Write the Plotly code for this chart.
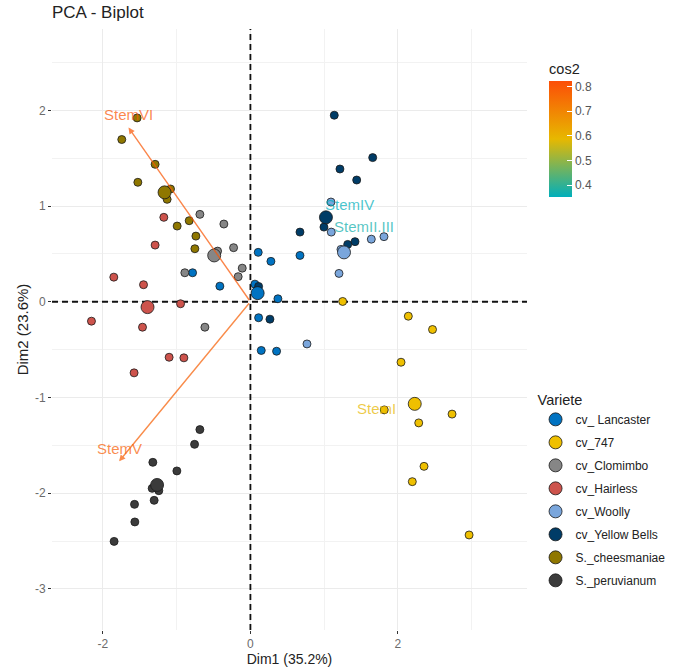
import plotly.graph_objects as go
from plotly.colors import sample_colorscale

# ---------------- data ----------------
groups = ["cv_ Lancaster", "cv_747", "cv_Clomimbo", "cv_Hairless", "cv_Woolly",
          "cv_Yellow Bells", "S._cheesmaniae", "S._peruvianum"]
group_colors = ["#0073C2", "#EFC000", "#868686", "#CD534C", "#7AA6DC",
                "#003C67", "#8F7700", "#3B3B3B"]

lancaster_x = [0.106, 0.278, -0.784, -0.414, 0.061, 0.373, 0.111, 0.147, 0.355, 0.672]
lancaster_y = [0.516, 0.422, 0.303, 0.163, 0.184, 0.031, -0.167, -0.509, -0.517, 0.484]
c747_x = [1.251, 2.141, 2.469, 2.042, 1.815, 2.734, 2.282, 2.354, 2.195, 2.965]
c747_y = [0.003, -0.151, -0.290, -0.632, -1.130, -1.174, -1.266, -1.720, -1.880, -2.437]
clomimbo_x = [-0.685, -0.360, -0.445, -0.228, -0.111, -0.166, -0.889, -0.617]
clomimbo_y = [0.913, 0.812, 0.529, 0.565, 0.351, 0.262, 0.303, -0.266]
hairless_x = [-1.174, -1.292, -1.852, -1.449, -0.947, -2.155, -1.463, -1.102, -0.902, -1.577]
hairless_y = [0.882, 0.592, 0.257, 0.178, -0.021, -0.203, -0.266, -0.580, -0.586, -0.743]
woolly_x = [1.092, 1.096, 1.639, 1.811, 1.228, 1.201, 0.767]
woolly_y = [1.042, 0.728, 0.654, 0.680, 0.547, 0.296, -0.441]
yellowbells_x = [1.137, 1.658, 1.214, 1.441, 0.997, 0.672, 1.418, 1.319, 0.111, 0.265]
yellowbells_y = [1.949, 1.506, 1.387, 1.272, 0.780, 0.728, 0.628, 0.599, 0.160, -0.182]
cheesmaniae_x = [-1.536, -1.744, -1.292, -1.526, -1.129, -1.083, -0.993, -0.830, -0.739, -0.753]
cheesmaniae_y = [1.921, 1.695, 1.436, 1.248, 1.070, 1.178, 0.791, 0.847, 0.686, 0.554]
peruvianum_x = [-0.685, -0.757, -1.323, -0.997, -1.332, -1.242, -1.305, -1.571, -1.567, -1.848]
peruvianum_y = [-1.336, -1.490, -1.678, -1.768, -1.950, -1.974, -2.075, -2.117, -2.301, -2.504]

# group centroids (large points)
mean_x = [0.098, 2.228, -0.491, -1.395, 1.269, 1.024, -1.164, -1.265]
mean_y = [0.090, -1.067, 0.484, -0.056, 0.516, 0.882, 1.143, -1.914]

# variables
var_names = ["StemI", "StemII.III", "StemIV", "StemV", "StemVI"]
var_x = [1.710, 1.540, 1.350, -1.780, -1.653]
var_y = [-1.256, 0.652, 0.879, -1.667, 1.820]
var_cos2 = [0.59, 0.37, 0.352, 0.78, 0.80]
arrow_vars = ["StemV", "StemVI"]

x_ticks = [-2, 0, 2]
x_tick_labels = ["-2", "0", "2"]
y_ticks = [-3, -2, -1, 0, 1, 2]
y_tick_labels = ["-3", "-2", "-1", "0", "1", "2"]
cbar_ticks = [0.4, 0.5, 0.6, 0.7, 0.8]
x_title = "Dim1 (35.2%)"
y_title = "Dim2 (23.6%)"
title = "PCA - Biplot"

x_range = [-2.69, 3.75]
y_range = [-3.43, 2.85]
cos2_min, cos2_max = 0.352, 0.822
cos2_scale = [[0, "#00AFBB"], [0.5, "#E7B800"], [1, "#FC4E07"]]

# ---------------- figure ----------------
font_family = "Liberation Sans, Arial, sans-serif"
group_x = [lancaster_x, c747_x, clomimbo_x, hairless_x, woolly_x, yellowbells_x,
           cheesmaniae_x, peruvianum_x]
group_y = [lancaster_y, c747_y, clomimbo_y, hairless_y, woolly_y, yellowbells_y,
           cheesmaniae_y, peruvianum_y]

fig = go.Figure()

# dashed reference lines through the origin (drawn above the grid, below points)
dash_line = dict(color="#111", width=1.8, dash="6px,4px")
fig.add_trace(go.Scatter(x=[0, 0], y=y_range, mode="lines", line=dash_line,
                         showlegend=False, hoverinfo="skip"))
fig.add_trace(go.Scatter(x=x_range, y=[0, 0], mode="lines", line=dash_line,
                         showlegend=False, hoverinfo="skip"))

for i, g in enumerate(groups):
    fig.add_trace(go.Scatter(
        x=group_x[i], y=group_y[i], mode="markers", name=g,
        legendgroup=g, showlegend=False,
        marker=dict(size=8, color=group_colors[i],
                    line=dict(color="#1a1a1a", width=0.8)),
        hoverinfo="x+y+name"))

for i, g in enumerate(groups):
    fig.add_trace(go.Scatter(
        x=[mean_x[i]], y=[mean_y[i]], mode="markers", name=g,
        legendgroup=g, showlegend=True,
        marker=dict(size=13, color=group_colors[i],
                    line=dict(color="#1a1a1a", width=0.8)),
        hoverinfo="x+y+name"))

# colorbar carrier (invisible)
fig.add_trace(go.Scatter(
    x=var_x, y=var_y, mode="markers", showlegend=False, hoverinfo="skip",
    marker=dict(size=0.1, opacity=0, color=var_cos2, colorscale=cos2_scale,
                cmin=cos2_min, cmax=cos2_max, showscale=True,
                colorbar=dict(
                    title=dict(text="cos2", side="top",
                               font=dict(size=14.5, color="#222", family=font_family)),
                    x=1.0465, xanchor="left", xpad=0, ypad=0,
                    y=1 - (60 - 29) / 601, yanchor="top",
                    lenmode="pixels", len=137, thicknessmode="pixels", thickness=23,
                    outlinewidth=0, tickvals=cbar_ticks,
                    ticks="inside", ticklen=5, tickcolor="white",
                    tickfont=dict(size=12, color="#555", family=font_family),
                ))))


def rgba(c, a):
    c = c.strip()
    if c.startswith("rgb("):
        vals = c[4:-1].split(",")
    else:
        h = c.lstrip("#")
        vals = [int(h[k:k + 2], 16) for k in (0, 2, 4)]
    r, g_, b = [float(v) for v in vals]
    return f"rgba({int(r)},{int(g_)},{int(b)},{a})"


var_colors = sample_colorscale(
    cos2_scale, [(c - cos2_min) / (cos2_max - cos2_min) for c in var_cos2])

annotations = []
for name, vx, vy, col in zip(var_names, var_x, var_y, var_colors):
    if name in arrow_vars:
        annotations.append(dict(
            x=vx, y=vy, ax=0, ay=0, xref="x", yref="y", axref="x", ayref="y",
            text="", showarrow=True, arrowhead=2, arrowsize=0.9, arrowwidth=1.4,
            arrowcolor=rgba(col, 0.72), standoff=0, startstandoff=0))
    annotations.append(dict(
        x=vx, y=vy, xref="x", yref="y", text=name, showarrow=False, yshift=13,
        font=dict(size=15, color=rgba(col, 0.72), family=font_family)))

fig.update_layout(
    width=685, height=667,
    margin=dict(l=52, r=158, t=29, b=37, autoexpand=False),
    paper_bgcolor="white", plot_bgcolor="white",
    font=dict(family=font_family, color="#222"),
    title=dict(text=title, x=52 / 685, xanchor="left", xref="container",
               y=1 - 6 / 667, yanchor="top", yref="container", pad=dict(l=0, t=0),
               font=dict(size=17, color="#222", family=font_family)),
    xaxis=dict(range=x_range, tickvals=x_ticks, ticktext=x_tick_labels,
               showgrid=True, automargin=False,
               gridcolor="#EBEBEB", gridwidth=1, zeroline=False,
               ticks="outside", ticklen=3, tickcolor="#333",
               tickfont=dict(size=12, color="#6b6b6b"),
               minor=dict(dtick=1, tick0=0, showgrid=True, gridcolor="#F2F2F2",
                          gridwidth=1, ticks=""),
               title=dict(text=x_title, standoff=4,
                          font=dict(size=14, color="#222")),
               showline=False),
    yaxis=dict(range=y_range, tickvals=y_ticks, ticktext=y_tick_labels,
               showgrid=True, automargin=False,
               gridcolor="#EBEBEB", gridwidth=1, zeroline=False,
               ticks="outside", ticklen=3, tickcolor="#333",
               tickfont=dict(size=12, color="#6b6b6b"),
               minor=dict(dtick=0.5, tick0=0, showgrid=True, gridcolor="#F2F2F2",
                          gridwidth=1, ticks=""),
               title=dict(text=y_title, standoff=2,
                          font=dict(size=15, color="#222")),
               showline=False),
    legend=dict(title=dict(text="Variete", font=dict(size=14.5, color="#222")),
                x=1.018, xanchor="left", y=1 - (386 - 29) / 601, yanchor="top",
                font=dict(size=12, color="#222"),
                traceorder="grouped", tracegroupgap=4,
                itemsizing="trace", bgcolor="rgba(0,0,0,0)"),
    annotations=annotations,
    hovermode="closest",
)

fig.write_html(
    "out.html",
    config={"displayModeBar": False},
    post_script="document.body.style.margin='0';document.body.style.padding='0';",
)
